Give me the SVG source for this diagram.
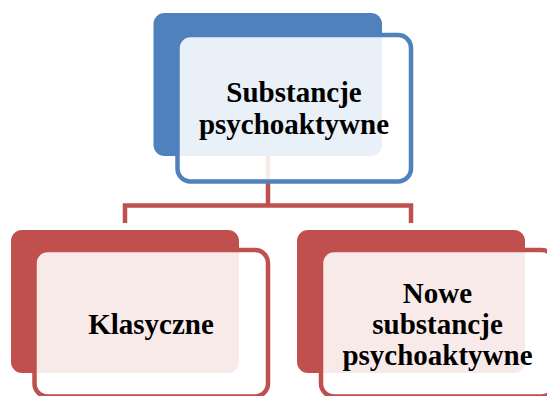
<svg xmlns="http://www.w3.org/2000/svg" width="547" height="396" viewBox="0 0 547 396">
<style>
.back-blue{fill:#4f81bd}
.front-blue{fill:#ffffff;fill-opacity:0.88;stroke:#4f81bd;stroke-width:4.5}
.back-red{fill:#c0504d}
.front-red{fill:#ffffff;fill-opacity:0.88;stroke:#c0504d;stroke-width:4.5}
.conn{fill:none;stroke:#c0504d;stroke-width:4.5;stroke-linejoin:miter}
.lbl{font-family:"Liberation Serif","Times New Roman",serif;font-weight:bold;font-size:29px;fill:#000;text-anchor:middle}
</style>
<rect width="547" height="396" fill="#ffffff"/>
<g id="connectors">
<path class="conn" d="M268,156 V205.5 M125,223 V205.5 H411 V223"/>
</g>
<g id="node-root">
<rect class="back-blue" x="153.5" y="13" width="228.5" height="143" rx="11"/>
<rect class="front-blue" x="177.5" y="35" width="233.5" height="146.5" rx="13"/>
<text class="lbl" x="294" y="102">Substancje</text>
<text class="lbl" x="294" y="134">psychoaktywne</text>
</g>
<g id="node-klasyczne">
<rect class="back-red" x="11" y="230" width="228" height="143" rx="11"/>
<rect class="front-red" x="34.5" y="250" width="233.5" height="146.5" rx="13"/>
<text class="lbl" x="151" y="334">Klasyczne</text>
</g>
<g id="node-nowe">
<rect class="back-red" x="297" y="230" width="228" height="143" rx="11"/>
<rect class="front-red" x="321" y="250" width="233.5" height="146.5" rx="13"/>
<text class="lbl" x="437.5" y="303">Nowe</text>
<text class="lbl" x="437.5" y="334">substancje</text>
<text class="lbl" x="437.5" y="364.5">psychoaktywne</text>
</g>
</svg>
